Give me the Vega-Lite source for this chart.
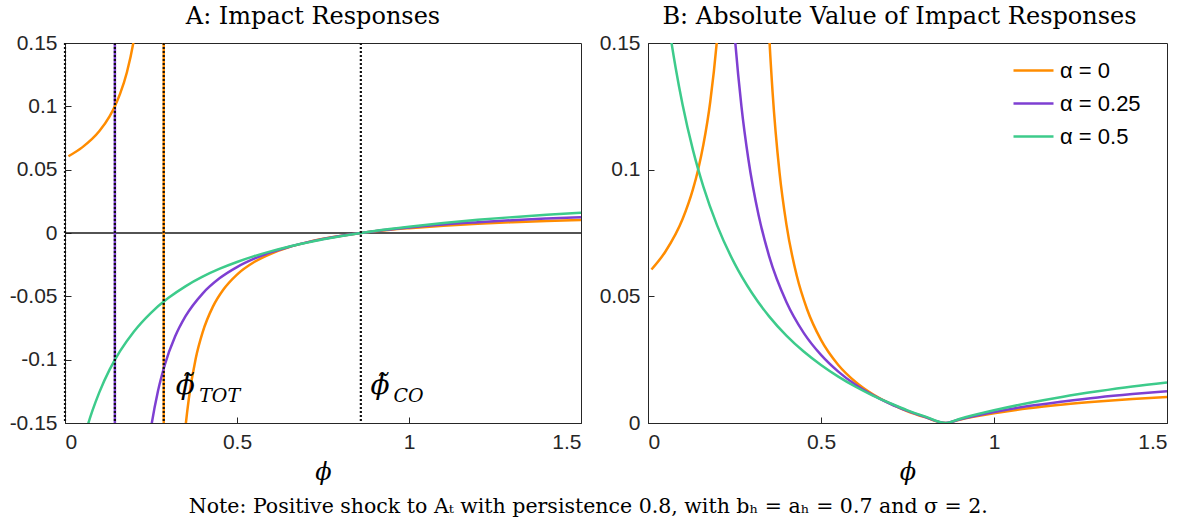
{
  "$schema": "https://vega.github.io/schema/vega-lite/v6.json",
  "background": "white",
  "padding": {"left": 8, "top": 4, "right": 8, "bottom": 2},
  "datasets": {
    "curves": [
      {"p": 0.01, "v": 0.0606, "a": 0.0606, "s": "α = 0", "g": "o1"},
      {"p": 0.05, "v": 0.0676, "a": 0.0676, "s": "α = 0", "g": "o1"},
      {"p": 0.1, "v": 0.0805, "a": 0.0805, "s": "α = 0", "g": "o1"},
      {"p": 0.13, "v": 0.0923, "a": 0.0923, "s": "α = 0", "g": "o1"},
      {"p": 0.145, "v": 0.1001, "a": 0.1001, "s": "α = 0", "g": "o1"},
      {"p": 0.16, "v": 0.1098, "a": 0.1098, "s": "α = 0", "g": "o1"},
      {"p": 0.18, "v": 0.1269, "a": 0.1269, "s": "α = 0", "g": "o1"},
      {"p": 0.2, "v": 0.1522, "a": 0.1522, "s": "α = 0", "g": "o1"},
      {"p": 0.21, "v": 0.1699, "a": 0.1699, "s": "α = 0", "g": "o1"},
      {"p": 0.22, "v": 0.193, "a": 0.193, "s": "α = 0", "g": "o1"},
      {"p": 0.23, "v": 0.2245, "a": 0.2245, "s": "α = 0", "g": "o1"},
      {"p": 0.33, "v": -0.2308, "a": 0.2308, "s": "α = 0", "g": "o2"},
      {"p": 0.34, "v": -0.1853, "a": 0.1853, "s": "α = 0", "g": "o2"},
      {"p": 0.35, "v": -0.1538, "a": 0.1538, "s": "α = 0", "g": "o2"},
      {"p": 0.36, "v": -0.1307, "a": 0.1307, "s": "α = 0", "g": "o2"},
      {"p": 0.38, "v": -0.099, "a": 0.099, "s": "α = 0", "g": "o2"},
      {"p": 0.4, "v": -0.0784, "a": 0.0784, "s": "α = 0", "g": "o2"},
      {"p": 0.43, "v": -0.0581, "a": 0.0581, "s": "α = 0", "g": "o2"},
      {"p": 0.46, "v": -0.0448, "a": 0.0448, "s": "α = 0", "g": "o2"},
      {"p": 0.5, "v": -0.0328, "a": 0.0328, "s": "α = 0", "g": "o2"},
      {"p": 0.55, "v": -0.0229, "a": 0.0229, "s": "α = 0", "g": "o2"},
      {"p": 0.6, "v": -0.0162, "a": 0.0162, "s": "α = 0", "g": "o2"},
      {"p": 0.65, "v": -0.0113, "a": 0.0113, "s": "α = 0", "g": "o2"},
      {"p": 0.7, "v": -0.0076, "a": 0.0076, "s": "α = 0", "g": "o2"},
      {"p": 0.75, "v": -0.0046, "a": 0.0046, "s": "α = 0", "g": "o2"},
      {"p": 0.8, "v": -0.0023, "a": 0.0023, "s": "α = 0", "g": "o2"},
      {"p": 0.86, "v": 0, "a": 0, "s": "α = 0", "g": "o2"},
      {"p": 0.9, "v": 0.0013, "a": 0.0013, "s": "α = 0", "g": "o2"},
      {"p": 1.0, "v": 0.0038, "a": 0.0038, "s": "α = 0", "g": "o2"},
      {"p": 1.1, "v": 0.0058, "a": 0.0058, "s": "α = 0", "g": "o2"},
      {"p": 1.2, "v": 0.0073, "a": 0.0073, "s": "α = 0", "g": "o2"},
      {"p": 1.3, "v": 0.0085, "a": 0.0085, "s": "α = 0", "g": "o2"},
      {"p": 1.4, "v": 0.0095, "a": 0.0095, "s": "α = 0", "g": "o2"},
      {"p": 1.5, "v": 0.0103, "a": 0.0103, "s": "α = 0", "g": "o2"},
      {"p": 0.22, "v": -0.2261, "a": 0.2261, "s": "α = 0.25", "g": "p"},
      {"p": 0.23, "v": -0.1964, "a": 0.1964, "s": "α = 0.25", "g": "p"},
      {"p": 0.24, "v": -0.1729, "a": 0.1729, "s": "α = 0.25", "g": "p"},
      {"p": 0.25, "v": -0.154, "a": 0.154, "s": "α = 0.25", "g": "p"},
      {"p": 0.27, "v": -0.1251, "a": 0.1251, "s": "α = 0.25", "g": "p"},
      {"p": 0.29, "v": -0.1042, "a": 0.1042, "s": "α = 0.25", "g": "p"},
      {"p": 0.32, "v": -0.0818, "a": 0.0818, "s": "α = 0.25", "g": "p"},
      {"p": 0.35, "v": -0.0659, "a": 0.0659, "s": "α = 0.25", "g": "p"},
      {"p": 0.4, "v": -0.0478, "a": 0.0478, "s": "α = 0.25", "g": "p"},
      {"p": 0.45, "v": -0.0356, "a": 0.0356, "s": "α = 0.25", "g": "p"},
      {"p": 0.5, "v": -0.0269, "a": 0.0269, "s": "α = 0.25", "g": "p"},
      {"p": 0.55, "v": -0.0203, "a": 0.0203, "s": "α = 0.25", "g": "p"},
      {"p": 0.6, "v": -0.0151, "a": 0.0151, "s": "α = 0.25", "g": "p"},
      {"p": 0.65, "v": -0.011, "a": 0.011, "s": "α = 0.25", "g": "p"},
      {"p": 0.7, "v": -0.0076, "a": 0.0076, "s": "α = 0.25", "g": "p"},
      {"p": 0.75, "v": -0.0048, "a": 0.0048, "s": "α = 0.25", "g": "p"},
      {"p": 0.8, "v": -0.0024, "a": 0.0024, "s": "α = 0.25", "g": "p"},
      {"p": 0.86, "v": 0, "a": 0, "s": "α = 0.25", "g": "p"},
      {"p": 0.9, "v": 0.0014, "a": 0.0014, "s": "α = 0.25", "g": "p"},
      {"p": 1.0, "v": 0.0043, "a": 0.0043, "s": "α = 0.25", "g": "p"},
      {"p": 1.1, "v": 0.0067, "a": 0.0067, "s": "α = 0.25", "g": "p"},
      {"p": 1.2, "v": 0.0085, "a": 0.0085, "s": "α = 0.25", "g": "p"},
      {"p": 1.3, "v": 0.0101, "a": 0.0101, "s": "α = 0.25", "g": "p"},
      {"p": 1.4, "v": 0.0114, "a": 0.0114, "s": "α = 0.25", "g": "p"},
      {"p": 1.5, "v": 0.0125, "a": 0.0125, "s": "α = 0.25", "g": "p"},
      {"p": 0.01, "v": -0.2194, "a": 0.2194, "s": "α = 0.5", "g": "g"},
      {"p": 0.02, "v": -0.2041, "a": 0.2041, "s": "α = 0.5", "g": "g"},
      {"p": 0.04, "v": -0.1782, "a": 0.1782, "s": "α = 0.5", "g": "g"},
      {"p": 0.06, "v": -0.1573, "a": 0.1573, "s": "α = 0.5", "g": "g"},
      {"p": 0.08, "v": -0.1401, "a": 0.1401, "s": "α = 0.5", "g": "g"},
      {"p": 0.1, "v": -0.1256, "a": 0.1256, "s": "α = 0.5", "g": "g"},
      {"p": 0.13, "v": -0.1077, "a": 0.1077, "s": "α = 0.5", "g": "g"},
      {"p": 0.16, "v": -0.0933, "a": 0.0933, "s": "α = 0.5", "g": "g"},
      {"p": 0.2, "v": -0.0779, "a": 0.0779, "s": "α = 0.5", "g": "g"},
      {"p": 0.25, "v": -0.063, "a": 0.063, "s": "α = 0.5", "g": "g"},
      {"p": 0.3, "v": -0.0514, "a": 0.0514, "s": "α = 0.5", "g": "g"},
      {"p": 0.35, "v": -0.0421, "a": 0.0421, "s": "α = 0.5", "g": "g"},
      {"p": 0.4, "v": -0.0345, "a": 0.0345, "s": "α = 0.5", "g": "g"},
      {"p": 0.45, "v": -0.0282, "a": 0.0282, "s": "α = 0.5", "g": "g"},
      {"p": 0.5, "v": -0.0229, "a": 0.0229, "s": "α = 0.5", "g": "g"},
      {"p": 0.55, "v": -0.0183, "a": 0.0183, "s": "α = 0.5", "g": "g"},
      {"p": 0.6, "v": -0.0143, "a": 0.0143, "s": "α = 0.5", "g": "g"},
      {"p": 0.65, "v": -0.0108, "a": 0.0108, "s": "α = 0.5", "g": "g"},
      {"p": 0.7, "v": -0.0078, "a": 0.0078, "s": "α = 0.5", "g": "g"},
      {"p": 0.75, "v": -0.005, "a": 0.005, "s": "α = 0.5", "g": "g"},
      {"p": 0.8, "v": -0.0026, "a": 0.0026, "s": "α = 0.5", "g": "g"},
      {"p": 0.86, "v": 0, "a": 0, "s": "α = 0.5", "g": "g"},
      {"p": 0.9, "v": 0.0016, "a": 0.0016, "s": "α = 0.5", "g": "g"},
      {"p": 1.0, "v": 0.005, "a": 0.005, "s": "α = 0.5", "g": "g"},
      {"p": 1.1, "v": 0.0079, "a": 0.0079, "s": "α = 0.5", "g": "g"},
      {"p": 1.2, "v": 0.0104, "a": 0.0104, "s": "α = 0.5", "g": "g"},
      {"p": 1.3, "v": 0.0125, "a": 0.0125, "s": "α = 0.5", "g": "g"},
      {"p": 1.4, "v": 0.0144, "a": 0.0144, "s": "α = 0.5", "g": "g"},
      {"p": 1.5, "v": 0.016, "a": 0.016, "s": "α = 0.5", "g": "g"}
    ],
    "poles": [
      {"p": 0.145, "s": "α = 0.25"},
      {"p": 0.287, "s": "α = 0"}
    ],
    "dotted": [
      {"p": 0.0},
      {"p": 0.145},
      {"p": 0.287},
      {"p": 0.86}
    ],
    "phis": [
      {"p": 0.322, "v": -0.121, "t": "ϕ̃"},
      {"p": 0.888, "v": -0.121, "t": "ϕ̃"}
    ],
    "subs": [
      {"p": 0.39, "v": -0.1285, "t": "TOT"},
      {"p": 0.955, "v": -0.1285, "t": "CO"}
    ]
  },
  "title": {
    "text": "Note: Positive shock to Aₜ with persistence 0.8, with bₕ = aₕ = 0.7 and σ = 2.",
    "orient": "bottom",
    "anchor": "middle",
    "font": "DejaVu Serif",
    "fontSize": 20.5,
    "fontWeight": "normal",
    "color": "#000000",
    "offset": 12
  },
  "spacing": 15,
  "resolve": {"scale": {"color": "independent"}, "legend": {"color": "independent"}},
  "hconcat": [
    {
      "width": 516,
      "height": 380,
      "title": {"text": "A: Impact Responses", "font": "DejaVu Serif", "fontSize": 24, "fontWeight": "normal", "color": "#000000", "offset": 3, "dx": -10},
      "layer": [
        {
          "data": {"values": [{"z": 0}]},
          "mark": {"type": "rule", "color": "#1a1a1a", "strokeWidth": 1.5},
          "encoding": {"y": {"field": "z", "type": "quantitative", "scale": {"domain": [-0.15, 0.15]}}}
        },
        {
          "data": {"name": "poles"},
          "mark": {"type": "rule", "strokeWidth": 2.5},
          "encoding": {
            "x": {"field": "p", "type": "quantitative", "scale": {"domain": [0, 1.5], "nice": false}},
            "color": {"field": "s", "type": "nominal", "legend": null, "scale": {"domain": ["α = 0", "α = 0.25", "α = 0.5"], "range": ["#FF8C00", "#7E3FD2", "#3DCB8B"]}}
          }
        },
        {
          "data": {"name": "curves"},
          "mark": {"type": "line", "strokeWidth": 2.5, "clip": true, "interpolate": "monotone"},
          "encoding": {
            "x": {"field": "p", "type": "quantitative", "scale": {"domain": [0, 1.5], "nice": false},
              "axis": {"values": [0, 0.5, 1, 1.5], "labelExpr": "format(datum.value, '~g')", "title": "ϕ"}},
            "y": {"field": "v", "type": "quantitative", "scale": {"domain": [-0.15, 0.15], "nice": false},
              "axis": {"values": [-0.15, -0.1, -0.05, 0, 0.05, 0.1, 0.15], "title": null,
                "labelExpr": "datum.value < 0 ? '-' + format(-datum.value, '~g') : format(datum.value, '~g')"}},
            "color": {"field": "s", "type": "nominal", "legend": null, "scale": {"domain": ["α = 0", "α = 0.25", "α = 0.5"], "range": ["#FF8C00", "#7E3FD2", "#3DCB8B"]}},
            "detail": {"field": "g"},
            "order": {"field": "p", "type": "quantitative"}
          }
        },
        {
          "data": {"name": "dotted"},
          "mark": {"type": "rule", "color": "#111111", "strokeWidth": 2.2, "strokeDash": [2, 2]},
          "encoding": {"x": {"field": "p", "type": "quantitative"}}
        },
        {
          "data": {"name": "phis"},
          "mark": {"type": "text", "font": "DejaVu Serif", "fontStyle": "italic", "fontSize": 28, "align": "left", "baseline": "middle", "color": "#000000"},
          "encoding": {
            "x": {"field": "p", "type": "quantitative"},
            "y": {"field": "v", "type": "quantitative"},
            "text": {"field": "t"}
          }
        },
        {
          "data": {"name": "subs"},
          "mark": {"type": "text", "font": "DejaVu Serif", "fontStyle": "italic", "fontSize": 19, "align": "left", "baseline": "middle", "color": "#000000"},
          "encoding": {
            "x": {"field": "p", "type": "quantitative"},
            "y": {"field": "v", "type": "quantitative"},
            "text": {"field": "t"}
          }
        }
      ]
    },
    {
      "width": 519,
      "height": 380,
      "title": {"text": "B: Absolute Value of Impact Responses", "font": "DejaVu Serif", "fontSize": 24, "fontWeight": "normal", "color": "#000000", "offset": 3, "dx": -8},
      "data": {"name": "curves"},
      "mark": {"type": "line", "strokeWidth": 2.5, "clip": true, "interpolate": "monotone"},
      "encoding": {
        "x": {"field": "p", "type": "quantitative", "scale": {"domain": [0, 1.5], "nice": false},
          "axis": {"values": [0, 0.5, 1, 1.5], "labelExpr": "format(datum.value, '~g')", "title": "ϕ"}},
        "y": {"field": "a", "type": "quantitative", "scale": {"domain": [0, 0.15], "nice": false},
          "axis": {"values": [0, 0.05, 0.1, 0.15], "labelExpr": "format(datum.value, '~g')", "title": null}},
        "color": {"field": "s", "type": "nominal", "title": null,
          "scale": {"domain": ["α = 0", "α = 0.25", "α = 0.5"], "range": ["#FF8C00", "#7E3FD2", "#3DCB8B"]},
          "legend": {"orient": "none", "legendX": 364, "legendY": 6, "symbolType": "stroke", "symbolSize": 1600, "symbolStrokeWidth": 2.5,
            "labelFont": "Liberation Sans", "labelFontSize": 22, "labelColor": "#000000", "rowPadding": -15, "labelOffset": 5}},
        "detail": {"field": "g"},
        "order": {"field": "p", "type": "quantitative"}
      }
    }
  ],
  "config": {
    "view": {"stroke": "#262626", "strokeWidth": 1},
    "axis": {
      "grid": false,
      "labelFont": "Liberation Sans",
      "labelFontSize": 21,
      "labelColor": "#262626",
      "tickColor": "#262626",
      "tickSize": -6,
      "domainColor": "#262626",
      "labelPadding": 14,
      "titleFont": "DejaVu Serif",
      "titleFontStyle": "italic",
      "titleFontWeight": "normal",
      "titleFontSize": 24,
      "titleColor": "#000000",
      "titlePadding": 8
    }
  }
}
